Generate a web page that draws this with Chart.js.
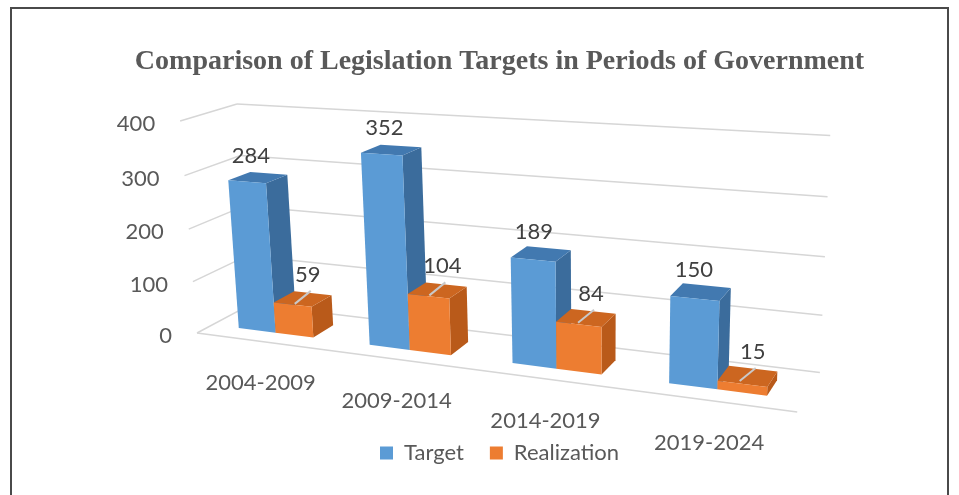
<!DOCTYPE html>
<html>
<head>
<meta charset="utf-8">
<script src="https://cdn.jsdelivr.net/npm/chart.js@4.4.1/dist/chart.umd.min.js"></script>
<style>
  html, body { margin: 0; padding: 0; background: #fff; }
  #frame { position: absolute; left: 10px; top: 7px; width: 939px; height: 520px; border: 2px solid #4a4a4a; box-sizing: border-box; }
  #wrap { position: absolute; left: 0; top: 0; width: 959px; height: 495px; }
</style>
</head>
<body>
<div id="frame"></div>
<div id="wrap"><canvas id="legChart" width="959" height="495"></canvas></div>
<script>
// data
const periods = ["2004-2009", "2009-2014", "2014-2019", "2019-2024"];
const targetValues = [284, 352, 189, 150];
const realizationValues = [59, 104, 84, 15];
const yTicks = [0, 100, 200, 300, 400];

// perspective camera (vanishing points)
const cam = {
  ox: 197, oy: 333,
  vx: [-2748, -55], vy: [600, 5400], vz: [1127, -163],
  lx: -0.1693, ly: -0.04016, lz: 0.0613
};
function project(X, Y, Z) {
  const a = cam.lx * X, b = cam.ly * Y, c = cam.lz * Z;
  const w = 1 + a + b + c;
  return [(cam.ox + a * cam.vx[0] + b * cam.vy[0] + c * cam.vz[0]) / w,
          (cam.oy + a * cam.vx[1] + b * cam.vy[1] + c * cam.vz[1]) / w];
}

const shades = [
  { front: '#5b9bd5', top: '#4279b0', side: '#3b6c9c', lab: [-7, -22] },
  { front: '#ed7d31', top: '#cc6620', side: '#b95a1a', lab: [5, -24] }
];
const depth = [0.28, 0.68];
const txtFont = '22px Lato';

function poly(ctx, pts, color) {
  ctx.beginPath();
  ctx.moveTo(pts[0][0], pts[0][1]);
  for (let i = 1; i < pts.length; i++) ctx.lineTo(pts[i][0], pts[i][1]);
  ctx.closePath();
  ctx.fillStyle = color;
  ctx.fill();
}
function line(ctx, p, q) {
  ctx.beginPath();
  ctx.moveTo(p[0], p[1]);
  ctx.lineTo(q[0], q[1]);
  ctx.stroke();
}

const box3d = {
  id: 'box3d',
  beforeDatasetsDraw(chart) {
    const ctx = chart.ctx;
    const xs = chart.scales.x, ys = chart.scales.y;
    const nx = px => (px - xs.left) / (xs.right - xs.left);
    const ny = v => (ys.bottom - ys.getPixelForValue(v)) / (ys.bottom - ys.top);
    ctx.save();

    // walls and gridlines
    ctx.strokeStyle = '#d6d6d6';
    ctx.lineWidth = 1.5;
    yTicks.forEach(t => {
      const Y = ny(t);
      line(ctx, project(0, Y, 0), project(0, Y, 1));
      line(ctx, project(0, Y, 1), project(1, Y, 1));
    });
    line(ctx, project(0, 0, 0), project(1, 0, 0));

    // value axis labels
    ctx.font = txtFont;
    ctx.fillStyle = '#595959';
    ctx.textAlign = 'right';
    ctx.textBaseline = 'middle';
    yTicks.forEach(t => {
      const p = project(0, ny(t), 0);
      ctx.fillText(String(t), p[0] - 25, p[1] + 3);
    });

    // category labels
    ctx.textAlign = 'center';
    xs.getLabels().forEach((lab, i) => {
      const p = project(nx(xs.getPixelForValue(i)), 0, 0);
      ctx.fillText(lab, p[0], p[1] + 42);
    });

    // bars, far (left) to near (right)
    const labels = [];
    periods.forEach((_, i) => {
      chart.data.datasets.forEach((ds, d) => {
        const bar = chart.getDatasetMeta(d).data[i];
        const { x, width } = bar.getProps(['x', 'width'], true);
        const X0 = nx(x - width / 2), X1 = nx(x + width / 2);
        const Y = ny(ds.data[i]);
        const [Z0, Z1] = depth;
        const s = shades[d];
        poly(ctx, [project(X1, 0, Z0), project(X1, 0, Z1), project(X1, Y, Z1), project(X1, Y, Z0)], s.side);
        poly(ctx, [project(X0, Y, Z0), project(X1, Y, Z0), project(X1, Y, Z1), project(X0, Y, Z1)], s.top);
        poly(ctx, [project(X0, 0, Z0), project(X1, 0, Z0), project(X1, Y, Z0), project(X0, Y, Z0)], s.front);
        const c = project((X0 + X1) / 2, Y, (Z0 + Z1) / 2);
        if (d === 1) {
          ctx.strokeStyle = '#c9c9c9';
          ctx.lineWidth = 2;
          line(ctx, [c[0] - 8, c[1] + 5], [c[0] + 8, c[1] - 8]);
        }
        labels.push([String(ds.data[i]), c[0] + s.lab[0], c[1] + s.lab[1]]);
      });
    });

    ctx.fillStyle = '#404040';
    ctx.font = txtFont;
    labels.forEach(l => ctx.fillText(l[0], l[1], l[2]));
    ctx.restore();
    return false;
  }
};

new Chart(document.getElementById('legChart'), {
  type: 'bar',
  data: {
    labels: periods,
    datasets: [
      { label: 'Target', data: targetValues, backgroundColor: '#5b9bd5' },
      { label: 'Realization', data: realizationValues, backgroundColor: '#ed7d31' }
    ]
  },
  options: {
    responsive: false,
    animation: false,
    layout: { padding: { left: 40, right: 0, top: 0, bottom: 21 } },
    datasets: { bar: { categoryPercentage: 0.58, barPercentage: 1.0 } },
    scales: {
      x: { display: false },
      y: { display: false, min: 0, max: 400, ticks: { stepSize: 100 } }
    },
    plugins: {
      title: {
        display: true,
        text: 'Comparison of Legislation Targets in Periods of Government',
        color: '#595959',
        font: { family: 'Liberation Serif', size: 28, weight: 'bold' },
        padding: { top: 45, bottom: 10 }
      },
      legend: {
        position: 'bottom',
        labels: {
          boxWidth: 13, boxHeight: 13,
          color: '#595959',
          font: { family: 'Lato', size: 22 },
          padding: 26
        }
      },
      tooltip: { enabled: false }
    }
  },
  plugins: [box3d]
});
</script>
</body>
</html>
